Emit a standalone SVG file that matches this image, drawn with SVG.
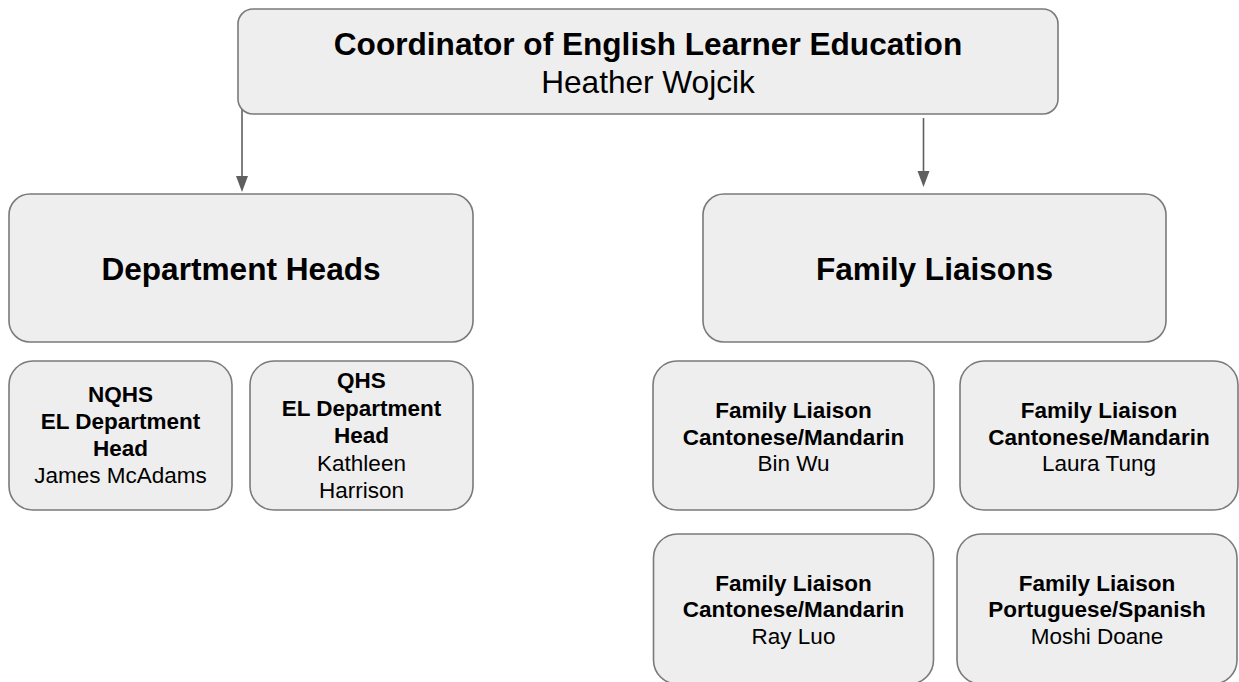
<svg xmlns="http://www.w3.org/2000/svg" width="1239" height="682" viewBox="0 0 1239 682">
  <defs>
    <style>
      .box { fill: #eeeeee; stroke: #7a7a7a; stroke-width: 1.6; }
      .t { font-family: "Liberation Sans", Arial, sans-serif; fill: #000; text-anchor: middle; }
      .big { font-size: 31.6px; }
      .small { font-size: 22.5px; }
      .b { font-weight: bold; }
      .conn { stroke: #5f5f5f; stroke-width: 1.6; fill: none; }
      .head { fill: #5f5f5f; }
    </style>
  </defs>
  <rect width="1239" height="682" fill="#ffffff"/>

  <!-- connectors -->
  <g id="connectors">
    <line class="conn" x1="242" y1="108" x2="242" y2="176"/>
    <path class="head" d="M236,176 L248,176 L242,192 Z"/>
    <line class="conn" x1="923.5" y1="118" x2="923.5" y2="171"/>
    <path class="head" d="M917.5,171 L929.5,171 L923.5,187 Z"/>
  </g>

  <!-- coordinator -->
  <g id="coordinator">
    <rect class="box" x="238" y="9" width="820" height="105" rx="15"/>
    <text class="t big b" x="648" y="54.5">Coordinator of English Learner Education</text>
    <text class="t big" x="648" y="93">Heather Wojcik</text>
  </g>

  <!-- department heads -->
  <g id="department-heads">
    <rect class="box" x="9" y="194" width="464" height="148" rx="21"/>
    <text class="t big b" x="241" y="280">Department Heads</text>
  </g>

  <!-- family liaisons -->
  <g id="family-liaisons">
    <rect class="box" x="703" y="194" width="463" height="148" rx="21"/>
    <text class="t big b" x="934.5" y="280">Family Liaisons</text>
  </g>

  <!-- NQHS -->
  <g id="nqhs-head">
    <rect class="box" x="9" y="361" width="223" height="149" rx="24"/>
    <text class="t small b" x="120.5" y="401.5">NQHS</text>
    <text class="t small b" x="120.5" y="428.5">EL Department</text>
    <text class="t small b" x="120.5" y="455.5">Head</text>
    <text class="t small" x="120.5" y="483">James McAdams</text>
  </g>

  <!-- QHS -->
  <g id="qhs-head">
    <rect class="box" x="250" y="361" width="223" height="149" rx="24"/>
    <text class="t small b" x="361.5" y="388">QHS</text>
    <text class="t small b" x="361.5" y="415.5">EL Department</text>
    <text class="t small b" x="361.5" y="443">Head</text>
    <text class="t small" x="361.5" y="470.5">Kathleen</text>
    <text class="t small" x="361.5" y="498">Harrison</text>
  </g>

  <!-- liaisons row 1 -->
  <g id="liaison-bin-wu">
    <rect class="box" x="653" y="361" width="281" height="149" rx="24"/>
    <text class="t small b" x="793.5" y="418">Family Liaison</text>
    <text class="t small b" x="793.5" y="444.5">Cantonese/Mandarin</text>
    <text class="t small" x="793.5" y="471">Bin Wu</text>
  </g>
  <g id="liaison-laura-tung">
    <rect class="box" x="960" y="361" width="278" height="149" rx="24"/>
    <text class="t small b" x="1099" y="418">Family Liaison</text>
    <text class="t small b" x="1099" y="444.5">Cantonese/Mandarin</text>
    <text class="t small" x="1099" y="471">Laura Tung</text>
  </g>

  <!-- liaisons row 2 -->
  <g id="liaison-ray-luo">
    <rect class="box" x="653.5" y="534" width="280" height="150" rx="24"/>
    <text class="t small b" x="793.5" y="591">Family Liaison</text>
    <text class="t small b" x="793.5" y="617">Cantonese/Mandarin</text>
    <text class="t small" x="793.5" y="643.5">Ray Luo</text>
  </g>
  <g id="liaison-moshi-doane">
    <rect class="box" x="957" y="534" width="280" height="150" rx="24"/>
    <text class="t small b" x="1097" y="591">Family Liaison</text>
    <text class="t small b" x="1097" y="617">Portuguese/Spanish</text>
    <text class="t small" x="1097" y="643.5">Moshi Doane</text>
  </g>
</svg>
